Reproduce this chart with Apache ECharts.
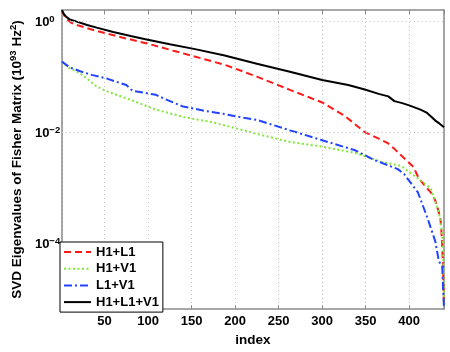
<!DOCTYPE html>
<html>
<head>
<meta charset="utf-8">
<script src="https://cdn.jsdelivr.net/npm/echarts@6/dist/echarts.min.js"></script>
<style>
  html, body { margin: 0; padding: 0; background: #fff; }
  #chart { width: 450px; height: 352px; }
</style>
</head>
<body>
<div id="chart"></div>
<script>
// eigenvalue curves, index -> value
const hlIdx = [1, 3, 6, 12, 20, 41, 70, 100, 129, 165, 190, 225, 263, 300, 326, 349, 365, 376, 383, 394, 405, 411, 418, 425, 430, 434, 436, 437, 438, 439, 440];
const hlVal = [1.6, 1.35, 1.12, 0.95, 0.85, 0.68, 0.52, 0.40, 0.30, 0.21, 0.163, 0.102, 0.059, 0.035, 0.020, 0.0102, 0.0078, 0.0064, 0.0051, 0.0035, 0.0024, 0.0015, 0.0011, 0.00083, 0.0006, 0.00037, 0.00027, 0.00017, 0.000086, 0.00003, 0.000008];

const hvIdx = [1, 5, 10, 22, 41, 52, 78, 109, 143, 173, 188, 210, 225, 263, 300, 338, 368, 391, 410, 425, 434, 437, 439, 440];
const hvVal = [0.19, 0.165, 0.145, 0.117, 0.068, 0.056, 0.040, 0.026, 0.0188, 0.0155, 0.0135, 0.011, 0.0095, 0.0068, 0.0056, 0.0043, 0.0030, 0.0025, 0.0015, 0.00098, 0.00037, 0.0002, 0.00008, 0.000007];

const lvIdx = [1, 3, 10, 22, 35, 52, 75, 82, 109, 120, 139, 165, 188, 210, 225, 263, 300, 338, 360, 387, 394, 410, 421, 430, 434, 438, 439, 440];
const lvVal = [0.19, 0.18, 0.15, 0.128, 0.11, 0.095, 0.072, 0.057, 0.048, 0.040, 0.030, 0.0247, 0.0216, 0.0185, 0.017, 0.011, 0.0073, 0.0048, 0.0032, 0.0022, 0.0018, 0.00084, 0.00029, 0.00011, 0.000049, 0.000038, 0.000015, 0.000007];

const hlvIdx = [1, 3, 6, 10, 18, 30, 41, 60, 80, 97, 125, 154, 188, 225, 263, 300, 330, 349, 365, 376, 383, 392, 400, 413, 420, 426, 430, 435, 440];
const hlvVal = [1.6, 1.4, 1.22, 1.1, 1.0, 0.87, 0.78, 0.65, 0.55, 0.48, 0.39, 0.32, 0.245, 0.175, 0.125, 0.089, 0.072, 0.06, 0.05, 0.045, 0.037, 0.034, 0.031, 0.026, 0.023, 0.019, 0.0165, 0.0145, 0.0125];

const seriesNames = ['H1+L1', 'H1+V1', 'L1+V1', 'H1+L1+V1'];
const gridDecades = [1, 1e-2, 1e-4];

const xMin = 1;
const xMax = 440;
const yMin = Math.pow(10, -5.18);
const yMax = Math.pow(10, 0.21);

const font = "'Liberation Sans', Arial, sans-serif";
const axisGray = '#8a8a8a';

function zip(xs, ys) {
  return xs.map((x, i) => [x, ys[i]]);
}

function decadeLabel(v) {
  const e = Math.log10(v);
  const r = Math.round(e);
  if (Math.abs(e - r) > 1e-6 || r % 2 !== 0) {
    return '';
  }
  return '{b|10}{s|' + String(r).replace('-', '\u2212') + '}';
}

const chart = echarts.init(document.getElementById('chart'));

const lineSeries = (name, xs, ys, color, type) => ({
  name: name,
  type: 'line',
  data: zip(xs, ys),
  showSymbol: false,
  symbol: 'none',
  z: 3,
  color: color,
  lineStyle: { color: color, width: 2, type: type },
});

chart.setOption({
  animation: false,
  textStyle: { fontFamily: font },
  grid: { left: 54.5, right: 6, top: 10, bottom: 36, containLabel: false },
  legend: {
    data: seriesNames,
    orient: 'vertical',
    left: 60,
    top: 242,
    padding: [3, 4, 3, 3],
    itemWidth: 27,
    itemHeight: 12,
    itemGap: 2.7,
    itemStyle: { opacity: 0 },
    backgroundColor: '#fff',
    borderColor: '#000',
    borderWidth: 1,
    textStyle: { fontFamily: font, fontWeight: 'bold', fontSize: 13, color: '#000', lineHeight: 14 },
  },
  xAxis: [{
    type: 'value',
    min: xMin,
    max: xMax,
    splitNumber: 9,
    name: 'index',
    nameLocation: 'middle',
    nameGap: 20,
    nameTextStyle: { fontFamily: font, fontWeight: 'bold', fontSize: 13.5, color: '#000' },
    axisLine: { lineStyle: { color: axisGray, width: 1.5 } },
    axisTick: { inside: true, length: 4, lineStyle: { color: axisGray } },
    axisLabel: {
      margin: 6,
      fontFamily: font,
      fontWeight: 'bold',
      fontSize: 13,
      color: '#000',
      formatter: v => (v % 50 === 0 ? String(v) : ''),
    },
    splitLine: { show: true, lineStyle: { color: '#c4c4c4', width: 1, type: [1, 3] } },
  }, {
    type: 'value',
    position: 'top',
    min: xMin,
    max: xMax,
    splitNumber: 9,
    axisLine: { lineStyle: { color: axisGray, width: 1.5 } },
    axisTick: { inside: true, length: 4, lineStyle: { color: axisGray } },
    axisLabel: { show: false },
    splitLine: { show: false },
  }],
  yAxis: [{
    type: 'log',
    logBase: 10,
    min: yMin,
    max: yMax,
    name: '{t|SVD Eigenvalues of Fisher Matrix (10}{s|93}{t| Hz}{s|2}{t|)}',
    nameLocation: 'middle',
    nameGap: 32,
    nameTextStyle: {
      rich: {
        t: { fontFamily: font, fontWeight: 'bold', fontSize: 13.5, color: '#000', lineHeight: 16, padding: [2, 0, 0, 0], verticalAlign: 'bottom' },
        s: { fontFamily: font, fontWeight: 'bold', fontSize: 9.5, color: '#000', lineHeight: 10, verticalAlign: 'top' },
      },
    },
    axisLine: { show: true, lineStyle: { color: axisGray, width: 1.5 } },
    axisTick: { show: false },
    axisLabel: {
      align: 'left',
      margin: 27,
      formatter: decadeLabel,
      rich: {
        b: { fontFamily: font, fontWeight: 'bold', fontSize: 13, color: '#000', lineHeight: 15, padding: [3, 0, 0, 0], verticalAlign: 'bottom' },
        s: { fontFamily: font, fontWeight: 'bold', fontSize: 9.5, color: '#000', lineHeight: 10, verticalAlign: 'top' },
      },
    },
    splitLine: { show: false },
  }, {
    type: 'log',
    logBase: 10,
    min: yMin,
    max: yMax,
    position: 'right',
    axisLine: { show: true, lineStyle: { color: axisGray, width: 1.5 } },
    axisTick: { show: false },
    axisLabel: { show: false },
    splitLine: { show: false },
  }],
  series: [
    {
      name: 'grid',
      type: 'line',
      data: [],
      z: 1,
      silent: true,
      markLine: {
        silent: true,
        symbol: ['none', 'none'],
        label: { show: false },
        lineStyle: { color: '#c4c4c4', width: 1, type: [1, 3] },
        data: gridDecades.map(v => ({ yAxis: v })),
      },
    },
    lineSeries(seriesNames[0], hlIdx, hlVal, '#ff1a1a', [7, 4]),
    lineSeries(seriesNames[1], hvIdx, hvVal, '#80e83a', [2, 2.5]),
    lineSeries(seriesNames[2], lvIdx, lvVal, '#2244ff', [8, 3, 2, 3]),
    lineSeries(seriesNames[3], hlvIdx, hlvVal, '#000000', 'solid'),
  ],
});
</script>
</body>
</html>
